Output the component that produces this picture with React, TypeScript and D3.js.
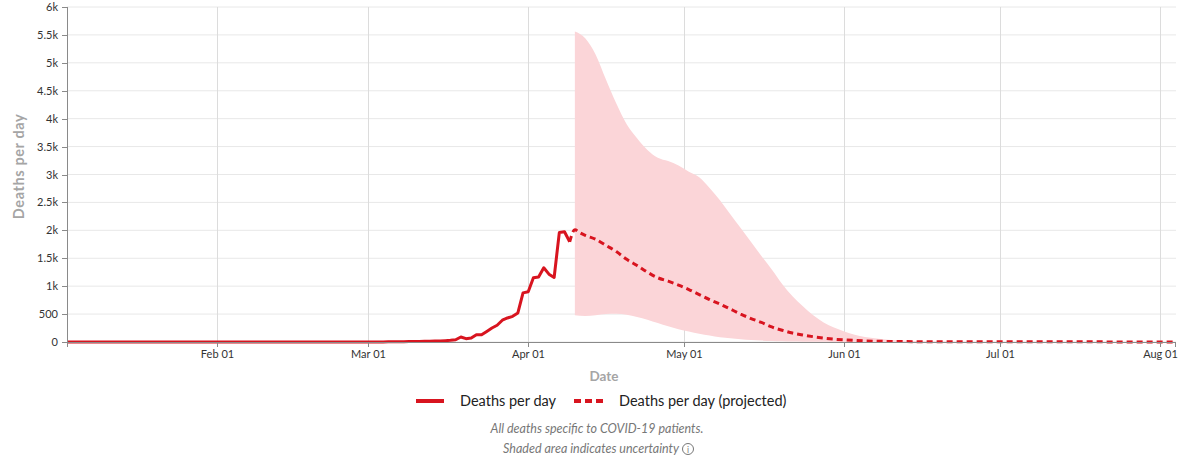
import React from "react";
import * as d3 from "d3";

// ---------- DATA ----------
const actualDates: string[] = [
  "2020-01-03", "2020-02-29",
  "2020-03-01", "2020-03-02", "2020-03-03", "2020-03-04", "2020-03-05", "2020-03-06", "2020-03-07",
  "2020-03-08", "2020-03-09", "2020-03-10", "2020-03-11", "2020-03-12", "2020-03-13", "2020-03-14",
  "2020-03-15", "2020-03-16", "2020-03-17", "2020-03-18", "2020-03-19", "2020-03-20", "2020-03-21",
  "2020-03-22", "2020-03-23", "2020-03-24", "2020-03-25", "2020-03-26", "2020-03-27", "2020-03-28",
  "2020-03-29", "2020-03-30", "2020-03-31", "2020-04-01", "2020-04-02", "2020-04-03", "2020-04-04",
  "2020-04-05", "2020-04-06", "2020-04-07", "2020-04-08", "2020-04-09",
];
const actualDeaths: number[] = [
  0, 0,
  1, 1, 2, 2, 3, 4, 5,
  6, 7, 8, 10, 12, 14, 17,
  20, 24, 30, 40, 90, 60, 70,
  130, 130, 190, 250, 300, 390, 430,
  460, 520, 880, 900, 1150, 1165, 1330,
  1215, 1155, 1960, 1975, 1795,
];

const projDates: string[] = [
  "2020-04-09", "2020-04-10", "2020-04-11", "2020-04-12", "2020-04-14", "2020-04-16", "2020-04-18",
  "2020-04-20", "2020-04-22", "2020-04-24", "2020-04-26", "2020-04-28", "2020-04-30", "2020-05-02",
  "2020-05-04", "2020-05-06", "2020-05-08", "2020-05-10", "2020-05-12", "2020-05-14", "2020-05-16",
  "2020-05-18", "2020-05-20", "2020-05-22", "2020-05-24", "2020-05-26", "2020-05-28", "2020-05-30",
  "2020-06-01", "2020-06-03", "2020-06-05", "2020-06-08", "2020-06-12", "2020-06-20", "2020-07-01",
  "2020-08-04",
];
const projMean: number[] = [
  1795, 2010, 1955, 1910, 1840, 1730, 1620,
  1480, 1370, 1250, 1150, 1090, 1020, 940,
  850, 760, 680, 590, 500, 420, 350,
  270, 210, 160, 125, 95, 70, 50,
  38, 28, 20, 12, 8, 5, 3,
  2,
];

const bandDates: string[] = [
  "2020-04-10", "2020-04-12", "2020-04-14", "2020-04-16", "2020-04-18",
  "2020-04-20", "2020-04-22", "2020-04-24", "2020-04-26", "2020-04-28", "2020-04-30", "2020-05-02",
  "2020-05-04", "2020-05-06", "2020-05-08", "2020-05-10", "2020-05-12", "2020-05-14", "2020-05-16",
  "2020-05-18", "2020-05-20", "2020-05-22", "2020-05-24", "2020-05-26", "2020-05-28", "2020-05-30",
  "2020-06-01", "2020-06-03", "2020-06-05", "2020-06-08", "2020-06-12", "2020-06-20", "2020-07-01",
  "2020-08-04",
];
const bandUpper: number[] = [
  5560, 5440, 5150, 4700, 4270,
  3900, 3650, 3440, 3300, 3240, 3160, 3050,
  2950, 2760, 2540, 2290, 2040, 1790, 1540,
  1300, 1040, 820, 640, 480, 350, 260,
  190, 130, 90, 55, 25, 8, 3,
  2,
];
const bandLower: number[] = [
  480, 465, 480, 500, 505,
  490, 450, 400, 340, 280, 230, 190,
  150, 115, 85, 65, 48, 35, 25,
  18, 12, 8, 6, 4, 3, 2,
  2, 1, 1, 1, 0, 0, 0,
  0,
];

const yTicks: number[] = [0, 500, 1000, 1500, 2000, 2500, 3000, 3500, 4000, 4500, 5000, 5500, 6000];
const xTickDates: string[] = ["2020-02-01", "2020-03-01", "2020-04-01", "2020-05-01", "2020-06-01", "2020-07-01", "2020-08-01"];
const xDomain: string[] = ["2020-01-03", "2020-08-04"];

const legendLabels = ["Deaths per day", "Deaths per day (projected)"];
const footnotes = ["All deaths specific to COVID-19 patients.", "Shaded area indicates uncertainty"];

// ---------- STYLE ----------
const RED = "#d8141f";
const BAND = "#fbd5d8";
const FONT = "Lato, 'Open Sans', sans-serif";

const parse = d3.timeParse("%Y-%m-%d");

export default function App() {
  const W = 1200, H = 460;
  const left = 67, right = 1176, top = 7, bottom = 342;

  const x = d3.scaleTime()
    .domain(xDomain.map((d) => parse(d) as Date))
    .range([left, right]);
  const y = d3.scaleLinear().domain([0, 6000]).range([bottom, top]);

  const actual = actualDates.map((d, i) => ({ date: parse(d) as Date, v: actualDeaths[i] }));
  const proj = projDates.map((d, i) => ({ date: parse(d) as Date, v: projMean[i] }));
  const band = bandDates.map((d, i) => ({ date: parse(d) as Date, lo: bandLower[i], hi: bandUpper[i] }));

  const lineGen = d3.line<{ date: Date; v: number }>()
    .x((d) => x(d.date))
    .y((d) => y(d.v));
  const projLine = d3.line<{ date: Date; v: number }>()
    .x((d) => x(d.date))
    .y((d) => y(d.v))
    .curve(d3.curveMonotoneX);
  const areaGen = d3.area<{ date: Date; lo: number; hi: number }>()
    .x((d) => x(d.date))
    .y0((d) => y(d.lo))
    .y1((d) => y(d.hi))
    .curve(d3.curveMonotoneX);

  const fmtY = (v: number) => (v >= 1000 ? `${v / 1000}k` : `${v}`);
  const fmtX = d3.timeFormat("%b %d");

  return (
    <svg
      width={W}
      height={H}
      style={{ position: "absolute", left: 0, top: 0, display: "block", background: "#fff" }}
      fontFamily={FONT}
    >
      {/* horizontal grid */}
      {yTicks.map((t) => (
        <line key={"gy" + t} x1={left} x2={right} y1={y(t)} y2={y(t)} stroke="#e8e8e8" strokeWidth={1} />
      ))}
      {/* vertical grid */}
      {xTickDates.map((d) => {
        const xx = Math.round(x(parse(d) as Date)) + 0.5;
        return <line key={"gx" + d} x1={xx} x2={xx} y1={top} y2={bottom} stroke="#dcdcdc" strokeWidth={1} />;
      })}

      {/* uncertainty band */}
      <path d={areaGen(band) || ""} fill={BAND} stroke="none" />

      {/* lines */}
      <path d={lineGen(actual) || ""} fill="none" stroke={RED} strokeWidth={3} strokeLinejoin="round" />
      <path d={projLine(proj) || ""} fill="none" stroke={RED} strokeWidth={3} strokeDasharray="6,4" />

      {/* y axis */}
      <line x1={left + 0.5} x2={left + 0.5} y1={top} y2={bottom + 5} stroke="#8a8a8a" strokeWidth={1} />
      {yTicks.map((t) => (
        <g key={"ty" + t} transform={`translate(0,${Math.round(y(t)) + 0.5})`}>
          <line x1={left - 5} x2={left} stroke="#8a8a8a" strokeWidth={1} />
          <text x={left - 9} dy="0.35em" textAnchor="end" fontSize={11} fill="#333">
            {fmtY(t)}
          </text>
        </g>
      ))}

      {/* x axis */}
      <line x1={left} x2={right} y1={bottom + 0.5} y2={bottom + 0.5} stroke="#8a8a8a" strokeWidth={1} />
      <line x1={right - 0.5} x2={right - 0.5} y1={bottom} y2={bottom + 5} stroke="#8a8a8a" strokeWidth={1} />
      {xTickDates.map((d) => {
        const xx = Math.round(x(parse(d) as Date)) + 0.5;
        return (
          <g key={"tx" + d} transform={`translate(${xx},0)`}>
            <line y1={bottom} y2={bottom + 5} stroke="#8a8a8a" strokeWidth={1} />
            <text y={bottom + 16} textAnchor="middle" fontSize={11} fill="#333">
              {fmtX(parse(d) as Date)}
            </text>
          </g>
        );
      })}

      {/* axis titles */}
      <text
        transform={`translate(24,${(top + bottom) / 2 - 8}) rotate(-90)`}
        textAnchor="middle"
        fontSize={14.5}
        fontWeight={700}
        letterSpacing={0.6}
        fill="#a5a5a5"
      >
        Deaths per day
      </text>
      <text x={604} y={381} textAnchor="middle" fontSize={13.5} fontWeight={700} fill="#a5a5a5">
        Date
      </text>

      {/* legend */}
      <line x1={416} x2={444} y1={401} y2={401} stroke={RED} strokeWidth={4} />
      <text x={460} y={406} fontSize={14.5} fill="#222">{legendLabels[0]}</text>
      <line x1={574} x2={603} y1={401} y2={401} stroke={RED} strokeWidth={4} strokeDasharray="7,4" />
      <text x={619} y={406} fontSize={14.5} fill="#222">{legendLabels[1]}</text>

      {/* footnotes */}
      <text x={597} y={433} textAnchor="middle" fontSize={12.5} fontStyle="italic" fill="#777">
        {footnotes[0]}
      </text>
      <text x={679} y={453} textAnchor="end" fontSize={12.5} fontStyle="italic" fill="#777">
        {footnotes[1]}
      </text>
      <circle cx={688} cy={449} r={5.5} fill="none" stroke="#777" strokeWidth={1} />
      <text x={688} y={452.5} textAnchor="middle" fontSize={8.5} fill="#777">i</text>
    </svg>
  );
}
